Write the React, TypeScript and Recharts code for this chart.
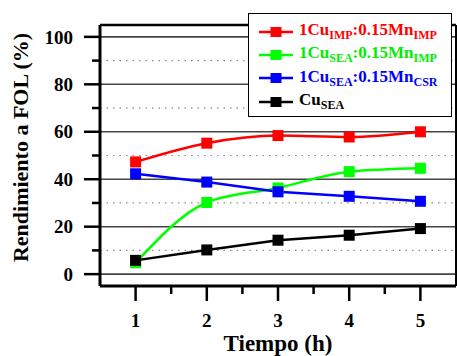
import React from "react";
import {
  LineChart,
  Line,
  XAxis,
  YAxis,
  ReferenceLine,
  Label,
} from "recharts";

const hours = [1, 2, 3, 4, 5];
const cuImpMnImp = [47.3, 55.2, 58.4, 57.8, 60.0];
const cuSeaMnImp = [4.8, 30.2, 36.3, 43.2, 44.6];
const cuSeaMnCsr = [42.3, 38.8, 34.7, 32.8, 30.7];
const cuSea = [5.8, 10.2, 14.3, 16.4, 19.2];

const xTicks = [1, 1.5, 2, 2.5, 3, 3.5, 4, 4.5, 5];
const yTicks = [0, 10, 20, 30, 40, 50, 60, 70, 80, 90, 100];
const gridMajor = [0, 20, 40, 60, 80, 100];
const gridMinor = [10, 30, 50, 70, 90];

const FONT = "Liberation Serif, Tinos, DejaVu Serif, serif";

type Series = {
  key: string;
  color: string;
  textColor: string;
  values: number[];
  curve: "monotone" | "linear";
  label: [string, string, string?, string?];
};

const series: Series[] = [
  { key: "a", color: "#ff0000", textColor: "#ff0000", values: cuImpMnImp, curve: "monotone", label: ["1Cu", "IMP", ":0.15Mn", "IMP"] },
  { key: "b", color: "#00ff00", textColor: "#00ee00", values: cuSeaMnImp, curve: "monotone", label: ["1Cu", "SEA", ":0.15Mn", "IMP"] },
  { key: "c", color: "#0000ff", textColor: "#0000ff", values: cuSeaMnCsr, curve: "linear", label: ["1Cu", "SEA", ":0.15Mn", "CSR"] },
  { key: "d", color: "#000000", textColor: "#000000", values: cuSea, curve: "linear", label: ["Cu", "SEA"] },
];

const rows = hours.map((t, i) => {
  const r: Record<string, number> = { t };
  series.forEach((s) => (r[s.key] = s.values[i]));
  return r;
});

const squareDot = (color: string) => (p: any) => (
  <rect
    key={`dot-${p.index}`}
    x={p.cx - 5.5}
    y={p.cy - 5.5}
    width={11}
    height={11}
    fill={color}
  />
);

const YTick = (p: any) => {
  const v = p.payload.value;
  const major = v % 20 === 0;
  return (
    <g>
      <line x1={p.x - (major ? 16 : 8)} y1={p.y} x2={p.x} y2={p.y} stroke="#000" strokeWidth={2.5} />
      {major && (
        <text x={p.x - 27} y={p.y} dy="0.35em" textAnchor="end" style={{ fontFamily: FONT }} fontWeight="bold" fontSize={19} fill="#000">
          {v}
        </text>
      )}
    </g>
  );
};

const XTick = (p: any) => {
  const v = p.payload.value;
  const major = Number.isInteger(v);
  return (
    <g>
      <line x1={p.x} y1={p.y} x2={p.x} y2={p.y + (major ? 15 : 8)} stroke="#000" strokeWidth={2.5} />
      {major && (
        <text x={p.x} y={p.y + 41} textAnchor="middle" style={{ fontFamily: FONT }} fontWeight="bold" fontSize={19} fill="#000">
          {v}
        </text>
      )}
    </g>
  );
};

export default function App() {
  return (
    <div style={{ position: "absolute", left: 0, top: 0, width: 457, height: 356, background: "#fff", fontFamily: FONT }}>
      <LineChart width={457} height={356} data={rows} margin={{ top: 25, right: 1, bottom: 0, left: 0 }}>
        {gridMinor.map((v) => (
          <ReferenceLine key={`mn-${v}`} y={v} stroke="#8a8a8a" strokeWidth={1.2} strokeDasharray="1.5 5" />
        ))}
        {gridMajor.map((v) => (
          <ReferenceLine key={`mj-${v}`} y={v} stroke="#444" strokeWidth={1.6} />
        ))}
        <ReferenceLine y={105} stroke="#000" strokeWidth={2.5} />
        <ReferenceLine x={5.5} stroke="#000" strokeWidth={2} />
        <XAxis
          dataKey="t"
          type="number"
          domain={[0.5, 5.5]}
          ticks={xTicks}
          interval={0}
          height={70}
          tickSize={0}
          tickMargin={0}
          tickLine={false}
          tick={XTick}
          axisLine={{ stroke: "#000", strokeWidth: 3 }}
        >
          <Label
            content={(p: any) => (
              <text
                x={p.viewBox.x + p.viewBox.width / 2}
                y={p.viewBox.y + p.viewBox.height - 5}
                textAnchor="middle"
                style={{ fontFamily: FONT }}
                fontWeight="bold"
                fontSize={23}
                fill="#000"
              >
                Tiempo (h)
              </text>
            )}
          />
        </XAxis>
        <YAxis
          type="number"
          domain={[-5, 105]}
          ticks={yTicks}
          interval={0}
          width={100}
          tickSize={0}
          tickMargin={0}
          tickLine={false}
          tick={YTick}
          axisLine={{ stroke: "#000", strokeWidth: 3 }}
        >
          <Label
            content={(p: any) => (
              <text
                transform={`translate(${p.viewBox.x + 28}, ${p.viewBox.y + p.viewBox.height / 2 - 8}) rotate(-90)`}
                textAnchor="middle"
                style={{ fontFamily: FONT }}
                fontWeight="bold"
                fontSize={22}
                fill="#000"
              >
                Rendimiento a FOL (%)
              </text>
            )}
          />
        </YAxis>
        {series.map((s) => (
          <Line
            key={s.key}
            dataKey={s.key}
            type={s.curve}
            stroke={s.color}
            strokeWidth={2.5}
            dot={squareDot(s.color)}
            activeDot={false}
            isAnimationActive={false}
          />
        ))}
      </LineChart>
      <div
        style={{
          position: "absolute",
          left: 248,
          top: 13,
          width: 204,
          height: 104,
          border: "1px solid #000",
          background: "#fff",
          boxSizing: "border-box",
          paddingTop: 6,
          paddingLeft: 10,
          fontFamily: FONT,
          fontWeight: "bold",
          fontSize: 17,
        }}
      >
        {series.map((s) => (
          <div key={s.key} style={{ height: 23.3, display: "flex", alignItems: "center", color: s.textColor, whiteSpace: "nowrap" }}>
            <svg width={34} height={12} style={{ marginRight: 6, flex: "none" }}>
              <line x1={0} y1={6} x2={34} y2={6} stroke={s.color} strokeWidth={2.5} />
              <rect x={11.5} y={1} width={11} height={10} fill={s.color} />
            </svg>
            <span>
              {s.label[0]}
              <sub style={{ fontSize: 12, verticalAlign: -4 }}>{s.label[1]}</sub>
              {s.label[2]}
              {s.label[3] && <sub style={{ fontSize: 12, verticalAlign: -4 }}>{s.label[3]}</sub>}
            </span>
          </div>
        ))}
      </div>
    </div>
  );
}
